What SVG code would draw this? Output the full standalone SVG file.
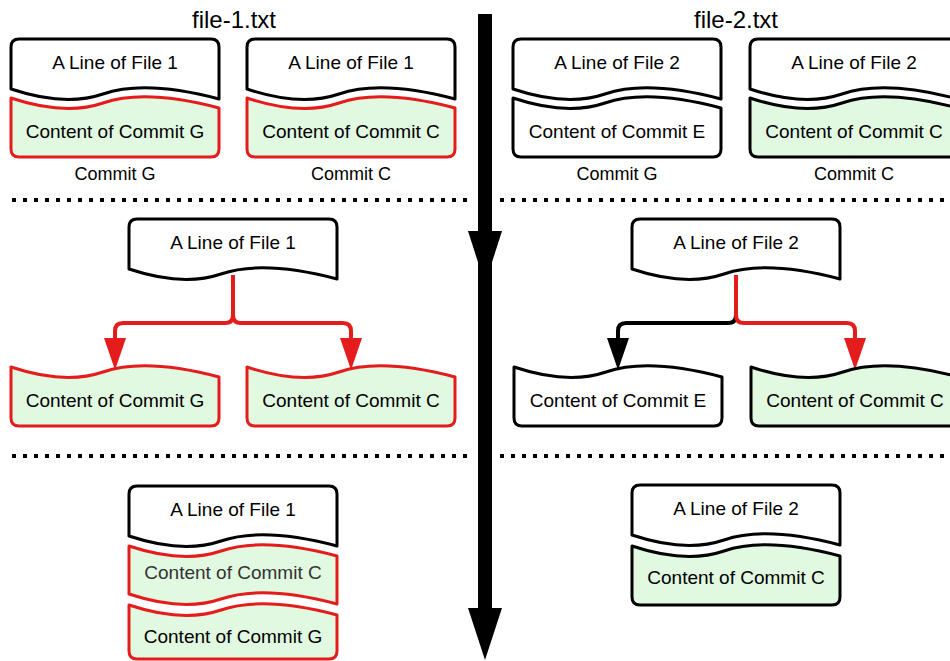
<svg xmlns="http://www.w3.org/2000/svg" width="950" height="661" viewBox="0 0 950 661">
<style>
text{font-family:"Liberation Sans",Arial,sans-serif;fill:#000;text-anchor:middle}
.t{font-size:19px}
.cap{font-size:18px}
.title{font-size:24px}
.blk{fill:#fff;stroke:#000;stroke-width:3;stroke-linejoin:round}
.gr{fill:#e1f8e1;stroke:#000;stroke-width:3;stroke-linejoin:round}
.rd{fill:#e1f8e1;stroke:#e51c1c;stroke-width:3;stroke-linejoin:round}
.dot{stroke:#000;stroke-width:4;stroke-dasharray:4 7;fill:none}
.cr{fill:none;stroke:#e51c1c;stroke-width:4;marker-end:url(#ar)}
.cb{fill:none;stroke:#000;stroke-width:4;marker-end:url(#ab)}
</style>
<defs>
<marker id="ar" markerUnits="userSpaceOnUse" markerWidth="32" markerHeight="22" viewBox="0 0 32 22" refX="0" refY="11" orient="auto"><path d="M0,0L32,11L0,22Z" fill="#e51c1c"/></marker>
<marker id="ab" markerUnits="userSpaceOnUse" markerWidth="32" markerHeight="22" viewBox="0 0 32 22" refX="0" refY="11" orient="auto"><path d="M0,0L32,11L0,22Z" fill="#000"/></marker>
<path id="top" d="M0,50 L0,8 Q0,0 8,0 L200,0 Q208,0 208,8 L208,60 Q134,40.5 92,55 Q54,68 0,50 Z"/>
<path id="bot" d="M0,0 Q54,18 92,5 Q134,-9.5 208,10 L208,51 Q208,59 200,59 L8,59 Q0,59 0,51 Z"/>
<path id="mid" d="M0,0 Q54,18 92,5 Q134,-9.5 208,10 L208,58 Q134,38.5 92,53 Q54,66 0,48 Z"/>
<path id="bot2" d="M0,0 Q54,18 92,5 Q134,-9.5 208,10 L208,46 Q208,54 200,54 L8,54 Q0,54 0,46 Z"/>
</defs>
<text class="title" x="234" y="28">file-1.txt</text>
<text class="title" x="736" y="28">file-2.txt</text>
<path class="dot" d="M12,200H470M500,200H950M12,456H470M500,456H950"/>
<g id="connectors">
<line x1="485" y1="14" x2="485" y2="610" stroke="#000" stroke-width="14"/>
<polygon points="468,231 502,231 485,284" fill="#000"/>
<polygon points="468,608 502,608 485,660" fill="#000"/>
<path class="cr" d="M233,275 L233,315 Q233,323 225,323 L123,323 Q115,323 115,331 L115,338"/>
<path class="cr" d="M233,275 L233,315 Q233,323 241,323 L343,323 Q351,323 351,331 L351,338"/>
<path class="cb" d="M736,315 Q736,323 728,323 L626,323 Q618,323 618,331 L618,338"/>
<path class="cr" d="M736,275 L736,315 Q736,323 744,323 L847,323 Q855,323 855,331 L855,338"/>
</g>
<g id="n1" transform="translate(11,39)">
<use href="#top" class="blk"/><text class="t" x="104" y="30">A Line of File 1</text>
<use href="#bot" class="rd" y="59"/><text class="t" x="104" y="99">Content of Commit G</text>
<text class="cap" x="104" y="141">Commit G</text>
</g>
<g id="n2" transform="translate(247,39)">
<use href="#top" class="blk"/><text class="t" x="104" y="30">A Line of File 1</text>
<use href="#bot" class="rd" y="59"/><text class="t" x="104" y="99">Content of Commit C</text>
<text class="cap" x="104" y="141">Commit C</text>
</g>
<g id="n3" transform="translate(513,39)">
<use href="#top" class="blk"/><text class="t" x="104" y="30">A Line of File 2</text>
<use href="#bot" class="blk" y="59"/><text class="t" x="104" y="99">Content of Commit E</text>
<text class="cap" x="104" y="141">Commit G</text>
</g>
<g id="n4" transform="translate(750,39)">
<use href="#top" class="blk"/><text class="t" x="104" y="30">A Line of File 2</text>
<use href="#bot" class="gr" y="59"/><text class="t" x="104" y="99">Content of Commit C</text>
<text class="cap" x="104" y="141">Commit C</text>
</g>
<g id="n5" transform="translate(129,219)">
<use href="#top" class="blk"/><text class="t" x="104" y="30">A Line of File 1</text>
</g>
<g id="n6" transform="translate(632,219)">
<use href="#top" class="blk"/><text class="t" x="104" y="30">A Line of File 2</text>
</g>
<g id="n7" transform="translate(11,367)">
<use href="#bot" class="rd"/><text class="t" x="104" y="40">Content of Commit G</text>
</g>
<g id="n8" transform="translate(247,367)">
<use href="#bot" class="rd"/><text class="t" x="104" y="40">Content of Commit C</text>
</g>
<g id="n9" transform="translate(514,367)">
<use href="#bot" class="blk"/><text class="t" x="104" y="40">Content of Commit E</text>
</g>
<g id="n10" transform="translate(751,367)">
<use href="#bot" class="gr"/><text class="t" x="104" y="40">Content of Commit C</text>
</g>
<g id="n11" transform="translate(129,486)">
<use href="#top" class="blk"/><text class="t" x="104" y="30">A Line of File 1</text>
<use href="#mid" class="rd" y="60"/><text class="t" x="104" y="93" style="fill:#333">Content of Commit C</text>
<use href="#bot2" class="rd" y="119"/><text class="t" x="104" y="157">Content of Commit G</text>
</g>
<g id="n12" transform="translate(632,485)">
<use href="#top" class="blk"/><text class="t" x="104" y="30">A Line of File 2</text>
<use href="#bot" class="gr" y="61"/><text class="t" x="104" y="99">Content of Commit C</text>
</g>
</svg>
